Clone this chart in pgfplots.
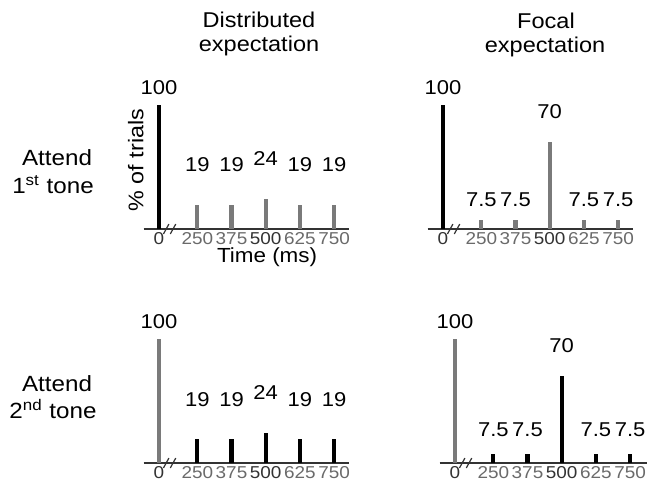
\documentclass[border=0pt]{standalone}
\usepackage{pgfplots}
\pgfplotsset{compat=1.18}
\usepackage{fontspec}
\setmainfont{Liberation Sans}[FakeStretch=1.1]
\definecolor{bargray}{HTML}{7A7A7A}
\definecolor{tickgray}{HTML}{6A6A6A}
\definecolor{axisgray}{HTML}{333333}

\pgfplotsset{
  panel/.style={
    x=17.1pt, y=0.62pt, xmin=-0.45, xmax=5.56, ymin=0, ymax=100,
    clip=false, axis x line=bottom, hide y axis,
    x axis line style={-, line width=0.7pt, axisgray},
    xtick={0,1.12,2.12,3.12,4.12,5.12},
    xticklabels={0,\textcolor{tickgray}{250},\textcolor{tickgray}{375},500,\textcolor{tickgray}{625},\textcolor{tickgray}{750}},
    major tick length=0pt,
    xticklabel style={font=\fontsize{8.6}{9}\selectfont, text=axisgray, inner sep=1pt, yshift=-0.5pt},
    anchor=origin,
  },
  vals/.style={draw=none, mark=none, nodes near coords, point meta=explicit symbolic,
    every node near coord/.style={anchor=center, font=\fontsize{10}{11}\selectfont, text=black}},
}
\tikzset{brk/.style={axisgray, line width=0.6pt}}
\newcommand\breakmarks{%
  \draw[brk] (axis cs:0.13,-4) -- (axis cs:0.29,4);
  \draw[brk] (axis cs:0.33,-4) -- (axis cs:0.49,4);
}

\begin{document}
\begin{tikzpicture}
\path[use as bounding box] (0,0) rectangle (323.5pt,242pt);

% column titles
\begin{scope}[font=\fontsize{10.7}{12}\selectfont]
\node[anchor=base] at (129.5pt,228.5pt) {Distributed};
\node[anchor=base] at (129.5pt,216.5pt) {expectation};
\node[anchor=base] at (273pt,228pt) {Focal};
\node[anchor=base] at (272.5pt,216pt) {expectation};
\end{scope}
% row labels
\begin{scope}[font=\fontsize{11}{12}\selectfont]
\node[anchor=base] at (28.5pt,159.5pt) {Attend};
\node[anchor=base] at (26.5pt,145.5pt) {1\textsuperscript{st} tone};
\node[anchor=base] at (28.5pt,46.5pt) {Attend};
\node[anchor=base] at (26.5pt,33pt) {2\textsuperscript{nd} tone};
\end{scope}

% top left: attend 1st, distributed
\begin{axis}[panel, at={(79.5pt,127.5pt)}]
\addplot[ycomb, line width=2.2pt, black] coordinates {(0,100)};
\addplot[ycomb, line width=2.1pt, bargray] coordinates {(1.12,19) (2.12,19) (3.12,24) (4.12,19) (5.12,19)};
\addplot[vals] table[meta=lab] {
x y lab
0 113.7 100
1.12 51.6 19
2.12 51.6 19
3.12 56.5 24
4.12 51.6 19
5.12 51.6 19
};
\breakmarks
\node[anchor=base, font=\fontsize{10.2}{11}\selectfont] at (axis cs:3.16,-27) {Time (ms)};
\node[rotate=90, font=\fontsize{10.6}{12}\selectfont] at (axis cs:-0.68,55.6) {\% of trials};
\end{axis}

% top right: attend 1st, focal
\begin{axis}[panel, at={(221.5pt,127.5pt)}]
\addplot[ycomb, line width=2.2pt, black] coordinates {(0,100)};
\addplot[ycomb, line width=2.1pt, bargray] coordinates {(1.12,7.5) (2.12,7.5) (3.12,70) (4.12,7.5) (5.12,7.5)};
\addplot[vals] table[meta=lab] {
x y lab
0 113.7 100
1.12 23.8 7.5
2.12 23.8 7.5
3.12 95 70
4.12 23.8 7.5
5.12 23.8 7.5
};
\breakmarks
\end{axis}

% bottom left: attend 2nd, distributed
\begin{axis}[panel, at={(79.5pt,10.5pt)}]
\addplot[ycomb, line width=2.2pt, bargray] coordinates {(0,100)};
\addplot[ycomb, line width=2.1pt, black] coordinates {(1.12,19) (2.12,19) (3.12,24) (4.12,19) (5.12,19)};
\addplot[vals] table[meta=lab] {
x y lab
0 113.7 100
1.12 50.8 19
2.12 50.8 19
3.12 57 24
4.12 50.8 19
5.12 50.8 19
};
\breakmarks
\end{axis}

% bottom right: attend 2nd, focal
\begin{axis}[panel, at={(227.5pt,10.5pt)}, xmax=5.61]
\addplot[ycomb, line width=2.2pt, bargray] coordinates {(0,100)};
\addplot[ycomb, line width=2.1pt, black] coordinates {(1.12,7.5) (2.12,7.5) (3.12,70) (4.12,7.5) (5.12,7.5)};
\addplot[vals] table[meta=lab] {
x y lab
0 113.7 100
1.12 26.6 7.5
2.12 26.6 7.5
3.12 95 70
4.12 26.6 7.5
5.12 26.6 7.5
};
\breakmarks
\end{axis}
\end{tikzpicture}
\end{document}
